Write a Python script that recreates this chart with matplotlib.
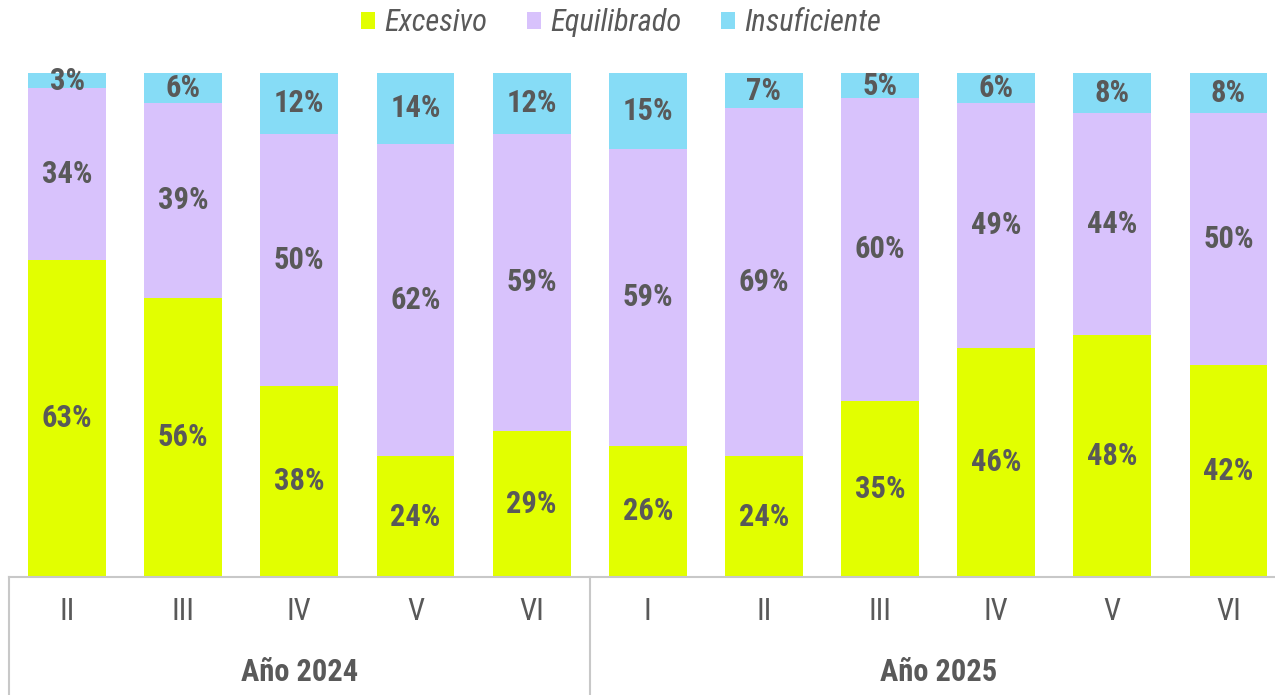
import numpy as np
import matplotlib.pyplot as plt
from matplotlib import font_manager

periodos = ["II", "III", "IV", "V", "VI", "I", "II", "III", "IV", "V", "VI"]
grupos = ["Año 2024", "Año 2025"]
grupo_n = [5, 6]

excesivo = [63, 56, 38, 24, 29, 26, 24, 35, 46, 48, 42]
equilibrado = [34, 39, 50, 62, 59, 59, 69, 60, 49, 44, 50]
insuficiente = [3, 6, 12, 14, 12, 15, 7, 5, 6, 8, 8]

series = [("Excesivo", excesivo, "#e2ff00"),
          ("Equilibrado", equilibrado, "#d8c2fc"),
          ("Insuficiente", insuficiente, "#86dcf6")]

# narrow font like Arial Narrow, if there is one
names = set(f.name for f in font_manager.fontManager.ttflist)
narrow = "Liberation Sans"
for cand in ["Liberation Sans Narrow", "Arial Narrow", "Roboto Condensed",
             "Asap Condensed", "Fira Sans Condensed", "Archivo Narrow"]:
    if cand in names:
        narrow = cand
        break
plt.rcParams['font.family'] = [narrow, "DejaVu Sans"]

txt = "#595959"
grid_c = "#c8c8c8"

fig = plt.figure(figsize=(12.75, 6.95), dpi=100)
ax = fig.add_axes([9 / 1275, 0.1698, 1 - 9 / 1275, 0.725])

x = np.arange(len(periodos))
tot = np.array(excesivo) + np.array(equilibrado) + np.array(insuficiente)
bottom = np.zeros(len(x))
for name, vals, col in series:
    h = np.array(vals) / tot
    ax.bar(x, h, 0.67, bottom=bottom, color=col, label=name)
    for xi, b, hi, v in zip(x, bottom, h, vals):
        ax.text(xi, b + hi / 2, f"{v}%", ha="center", va="center",
                fontsize=22, fontweight="bold", color=txt)
    bottom += h

ax.set_xlim(-0.5, 10.4)
ax.set_ylim(0, 1)
ax.set_yticks([])
ax.set_xticks([])
for s in ["top", "right", "left"]:
    ax.spines[s].set_visible(False)
ax.spines["bottom"].set_color(grid_c)
ax.spines["bottom"].set_linewidth(1.5)

tr = ax.get_xaxis_transform()
for xi, p in zip(x, periodos):
    ax.text(xi, -0.069, p, transform=tr, ha="center", va="center",
            fontsize=22, color=txt)

start = 0
for g, n in zip(grupos, grupo_n):
    ax.plot([start - 0.5, start - 0.5], [0, -0.24], transform=tr,
            color=grid_c, lw=1.5, clip_on=False)
    ax.text(start + (n - 1) / 2, -0.188, g, transform=tr, ha="center",
            va="center", fontsize=22, fontweight="bold", color=txt)
    start += n

leg = fig.legend(loc="center", bbox_to_anchor=(0.487, 0.967), ncol=3,
                 frameon=False, handlelength=0.45, handleheight=0.45,
                 handletextpad=0.3, columnspacing=1.3,
                 prop={"size": 22, "style": "italic"})
for t in leg.get_texts():
    t.set_color(txt)

fig.savefig("out.png", dpi=100)
